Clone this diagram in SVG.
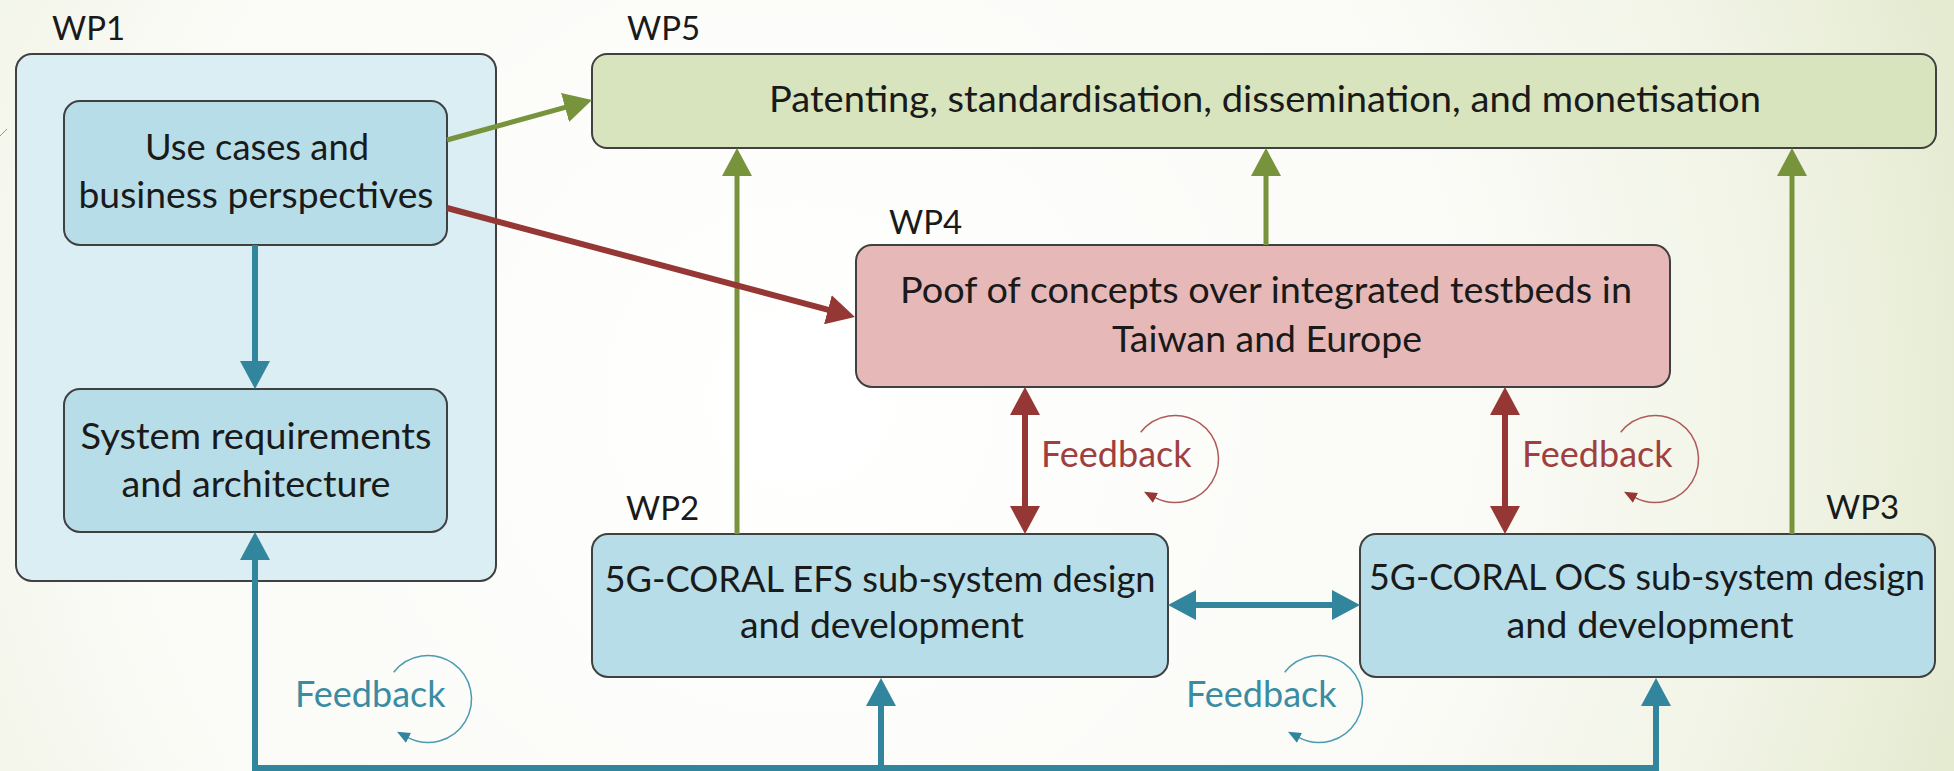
<svg xmlns="http://www.w3.org/2000/svg" width="1954" height="771" viewBox="0 0 1954 771">
  <defs>
    <radialGradient id="bg" gradientUnits="userSpaceOnUse" cx="800" cy="400" r="1250">
      <stop offset="0" stop-color="#ffffff"/>
      <stop offset="0.55" stop-color="#fafbf6"/>
      <stop offset="0.8" stop-color="#f0f3e4"/>
      <stop offset="1" stop-color="#e2e9cc"/>
    </radialGradient>
    <marker id="arrB" markerUnits="userSpaceOnUse" viewBox="0 0 28 30" markerWidth="28" markerHeight="30" refX="18" refY="15" orient="auto-start-reverse">
      <path d="M0,0 L28,15 L0,30 z" fill="#31859c"/>
    </marker>
    <marker id="arrG" markerUnits="userSpaceOnUse" viewBox="0 0 28 30" markerWidth="28" markerHeight="30" refX="18" refY="15" orient="auto-start-reverse">
      <path d="M0,0 L28,15 L0,30 z" fill="#77933c"/>
    </marker>
    <marker id="arrR" markerUnits="userSpaceOnUse" viewBox="0 0 28 30" markerWidth="28" markerHeight="30" refX="18" refY="15" orient="auto-start-reverse">
      <path d="M0,0 L28,15 L0,30 z" fill="#953735"/>
    </marker>
    <marker id="smR" markerUnits="userSpaceOnUse" viewBox="0 0 13 11" markerWidth="13" markerHeight="11" refX="1" refY="5.5" orient="auto">
      <path d="M0,0 L13,5.5 L0,11 z" fill="#953735"/>
    </marker>
    <marker id="smB" markerUnits="userSpaceOnUse" viewBox="0 0 13 11" markerWidth="13" markerHeight="11" refX="1" refY="5.5" orient="auto">
      <path d="M0,0 L13,5.5 L0,11 z" fill="#31859c"/>
    </marker>
  </defs>
  <style>
    .box { stroke: #404040; stroke-width: 2; }
    .outer { fill: #dbeef3; }
    .blue { fill: #b7dee8; }
    .green { fill: #d7e4bd; }
    .red { fill: #e6b9b8; }
    .t { font-family: Lato, "Liberation Sans", sans-serif; font-size: 37px; fill: #1a1a1a; text-anchor: middle; }
    .wp { font-family: Lato, "Liberation Sans", sans-serif; font-size: 33px; fill: #1a1a1a; }
    .fbR { font-family: Lato, "Liberation Sans", sans-serif; font-size: 36px; fill: #a0403e; }
    .fbB { font-family: Lato, "Liberation Sans", sans-serif; font-size: 36px; fill: #3a8ca3; }
    .cB { fill: none; stroke: #31859c; stroke-width: 6; }
    .cG { fill: none; stroke: #77933c; stroke-width: 5; }
    .cR { fill: none; stroke: #953735; stroke-width: 6; }
    .arcR { fill: none; stroke: #b05a58; stroke-width: 1.5; }
    .arcB { fill: none; stroke: #4a9bb0; stroke-width: 1.5; }
  </style>

  <rect width="1954" height="771" fill="url(#bg)"/>
  <line x1="0" y1="136" x2="7" y2="129" stroke="#9a9a80" stroke-width="1"/>

  <g id="wp1">
    <text class="wp" x="52" y="40">WP1</text>
    <rect class="box outer" x="16" y="54" width="480" height="527" rx="16"/>
  </g>
  <g id="use-cases">
    <rect class="box blue" x="64" y="101" width="383" height="144" rx="16"/>
    <text class="t" x="257" y="160" textLength="224" lengthAdjust="spacingAndGlyphs">Use cases and</text>
    <text class="t" x="256" y="208" textLength="355" lengthAdjust="spacingAndGlyphs">business perspectives</text>
  </g>
  <g id="system-requirements">
    <rect class="box blue" x="64" y="389" width="383" height="143" rx="16"/>
    <text class="t" x="256" y="449" textLength="351" lengthAdjust="spacingAndGlyphs">System requirements</text>
    <text class="t" x="256" y="497" textLength="269" lengthAdjust="spacingAndGlyphs">and architecture</text>
  </g>
  <g id="wp5">
    <text class="wp" x="627" y="40">WP5</text>
    <rect class="box green" x="592" y="54" width="1344" height="94" rx="15"/>
    <text class="t" x="1265" y="112" textLength="992" lengthAdjust="spacingAndGlyphs">Patenting, standardisation, dissemination, and monetisation</text>
  </g>
  <g id="wp4">
    <text class="wp" x="889" y="234">WP4</text>
    <rect class="box red" x="856" y="245" width="814" height="142" rx="16"/>
    <text class="t" x="1266" y="303" textLength="732" lengthAdjust="spacingAndGlyphs">Poof of concepts over integrated testbeds in</text>
    <text class="t" x="1267" y="352" textLength="310" lengthAdjust="spacingAndGlyphs">Taiwan and Europe</text>
  </g>
  <g id="wp2">
    <text class="wp" x="626" y="520">WP2</text>
    <rect class="box blue" x="592" y="534" width="576" height="143" rx="16"/>
    <text class="t" x="880" y="592" textLength="551" lengthAdjust="spacingAndGlyphs">5G-CORAL EFS sub-system design</text>
    <text class="t" x="882" y="638" textLength="284" lengthAdjust="spacingAndGlyphs">and development</text>
  </g>
  <g id="wp3">
    <text class="wp" x="1826" y="519">WP3</text>
    <rect class="box blue" x="1360" y="534" width="575" height="143" rx="16"/>
    <text class="t" x="1647" y="590" textLength="556" lengthAdjust="spacingAndGlyphs">5G-CORAL OCS sub-system design</text>
    <text class="t" x="1650" y="638" textLength="287" lengthAdjust="spacingAndGlyphs">and development</text>
  </g>

  <g id="connectors">
    <path class="cB" d="M255,245 L255,379" marker-end="url(#arrB)"/>
    <path class="cB" d="M1656,688 L1656,768 L255,768 L255,542" marker-start="url(#arrB)" marker-end="url(#arrB)"/>
    <path class="cB" d="M881,768 L881,688" marker-end="url(#arrB)"/>
    <path class="cB" d="M1178,605 L1350,605" marker-start="url(#arrB)" marker-end="url(#arrB)"/>
    <path class="cG" d="M447,140 L582.4,102.7" marker-end="url(#arrG)"/>
    <path class="cG" d="M737,534 L737,158" marker-end="url(#arrG)"/>
    <path class="cG" d="M1266,245 L1266,158" marker-end="url(#arrG)"/>
    <path class="cG" d="M1792,534 L1792,158" marker-end="url(#arrG)"/>
    <path class="cR" d="M447,208 L845.3,314.4" marker-end="url(#arrR)"/>
    <path class="cR" d="M1025,397 L1025,524" marker-start="url(#arrR)" marker-end="url(#arrR)"/>
    <path class="cR" d="M1505,397 L1505,524" marker-start="url(#arrR)" marker-end="url(#arrR)"/>
  </g>

  <g id="feedback-labels">
    <text class="fbR" x="1041" y="467">Feedback</text>
    <path class="arcR" d="M1140.7,432.2 A43.5,43.5 0 1 1 1154.6,497.4" marker-end="url(#smR)"/>
    <text class="fbR" x="1522" y="467">Feedback</text>
    <path class="arcR" d="M1620.7,432.2 A43.5,43.5 0 1 1 1634.6,497.4" marker-end="url(#smR)"/>
    <text class="fbB" x="295" y="707">Feedback</text>
    <path class="arcB" d="M393.7,672.2 A43.5,43.5 0 1 1 407.6,737.4" marker-end="url(#smB)"/>
    <text class="fbB" x="1186" y="707">Feedback</text>
    <path class="arcB" d="M1284.7,672.2 A43.5,43.5 0 1 1 1298.6,737.4" marker-end="url(#smB)"/>
  </g>
</svg>
